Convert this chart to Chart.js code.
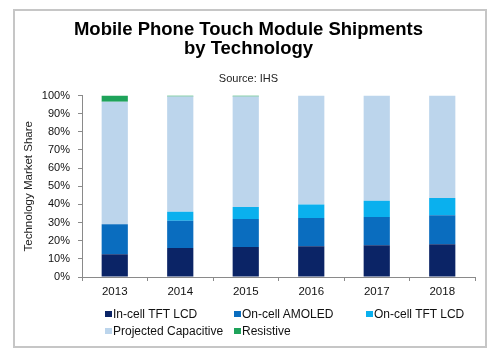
<!DOCTYPE html>
<html>
<head>
<meta charset="utf-8">
<script src="https://cdn.jsdelivr.net/npm/chart.js@4/dist/chart.umd.min.js"></script>
<style>
  html, body { margin: 0; padding: 0; background: #fff; }
  #wrap { position: relative; width: 500px; height: 357px; overflow: hidden; }
  #c { position: absolute; left: 0; top: 0; }
  #frame { position: absolute; left: 13px; top: 9px; width: 470px; height: 335px; border: 2px solid #c6c6c6; pointer-events: none; }
  .lg { position: absolute; font: 12px "Liberation Sans", Arial, sans-serif; color: #111; white-space: nowrap; line-height: 14px; }
  .lg i { position: absolute; left: 0; top: 4px; width: 7px; height: 6px; }
  .lg span { position: absolute; left: 8px; top: 0; }
</style>
</head>
<body>
<div id="wrap">
  <canvas id="c" width="500" height="357"></canvas>
  <div id="frame"></div>
  <div id="legend"></div>
</div>
<script>
const years = ['2013', '2014', '2015', '2016', '2017', '2018'];
const seriesNames = ['In-cell TFT LCD', 'On-cell AMOLED', 'On-cell TFT LCD', 'Projected Capacitive', 'Resistive'];
const inCellTftLcd = [12.5, 16, 16.5, 17, 17.5, 18];
const onCellAmoled = [16.5, 15, 15.5, 15.5, 15.5, 16];
const onCellTftLcd = [0, 5, 6.5, 7.5, 9, 9.5];
const projectedCapacitive = [67.5, 63.5, 61, 60, 58, 56.5];
const resistive = [3.5, 0.5, 0.5, 0, 0, 0];
const yTicks = [0, 10, 20, 30, 40, 50, 60, 70, 80, 90, 100];
const seriesColors = ['#0b2466', '#0a6dbf', '#0ab0ee', '#bcd5ec', '#1ea35a'];

const seriesValues = [inCellTftLcd, onCellAmoled, onCellTftLcd, projectedCapacitive, resistive];

const datasets = seriesNames.map((name, i) => ({
  label: name,
  data: seriesValues[i],
  backgroundColor: seriesColors[i],
  borderWidth: 0,
  barPercentage: 0.4,
  categoryPercentage: 1.0
}));

new Chart(document.getElementById('c'), {
  type: 'bar',
  data: { labels: years, datasets },
  options: {
    responsive: false,
    animation: false,
    layout: { padding: { left: 22, right: 25, top: 0, bottom: 0 } },
    plugins: {
      legend: { display: false },
      tooltip: { enabled: false },
      title: {
        display: true,
        text: ['Mobile Phone Touch Module Shipments', 'by Technology'],
        color: '#000',
        font: { family: '"Liberation Sans", Arial, sans-serif', size: 18.5, weight: 'bold', lineHeight: 1.0 },
        padding: { top: 21, bottom: 14 }
      },
      subtitle: {
        display: true,
        text: 'Source: IHS',
        color: '#222',
        font: { family: '"Liberation Sans", Arial, sans-serif', size: 11, lineHeight: 1.2 },
        padding: { top: 0, bottom: 10.3 }
      }
    },
    scales: {
      x: {
        stacked: true,
        afterFit: (s) => { s.height = 80; },
        grid: { drawOnChartArea: false, drawTicks: true, tickLength: 4, color: '#8a8a8a', offset: true },
        border: { display: true, color: '#8a8a8a', width: 1 },
        ticks: {
          color: '#111',
          padding: 4,
          font: { family: '"Liberation Sans", Arial, sans-serif', size: 11.5 }
        }
      },
      y: {
        stacked: true,
        min: 0,
        max: 100,
        afterFit: (s) => { s.width = 60; },
        afterBuildTicks: (s) => { s.ticks = yTicks.map(v => ({ value: v })); },
        grid: { drawOnChartArea: false, drawTicks: true, tickLength: 4, color: '#8a8a8a' },
        border: { display: true, color: '#8a8a8a', width: 1 },
        ticks: {
          color: '#111',
          padding: 8,
          font: { family: '"Liberation Sans", Arial, sans-serif', size: 11 },
          callback: (v) => v + '%'
        },
        title: {
          display: true,
          text: 'Technology Market Share',
          color: '#222',
          padding: { top: 0, bottom: 0 },
          font: { family: '"Liberation Sans", Arial, sans-serif', size: 11.5, lineHeight: 1.2 }
        }
      }
    }
  }
});

// HTML legend built from the dataset names and colours
const legendSlots = [[105, 307], [234, 307], [366, 307], [105, 324], [234, 324]];
const legendEl = document.getElementById('legend');
seriesNames.forEach((name, i) => {
  const d = document.createElement('div');
  d.className = 'lg';
  d.style.left = legendSlots[i][0] + 'px';
  d.style.top = legendSlots[i][1] + 'px';
  const m = document.createElement('i');
  m.style.background = seriesColors[i];
  const t = document.createElement('span');
  t.textContent = name;
  d.appendChild(m);
  d.appendChild(t);
  legendEl.appendChild(d);
});
</script>
</body>
</html>
